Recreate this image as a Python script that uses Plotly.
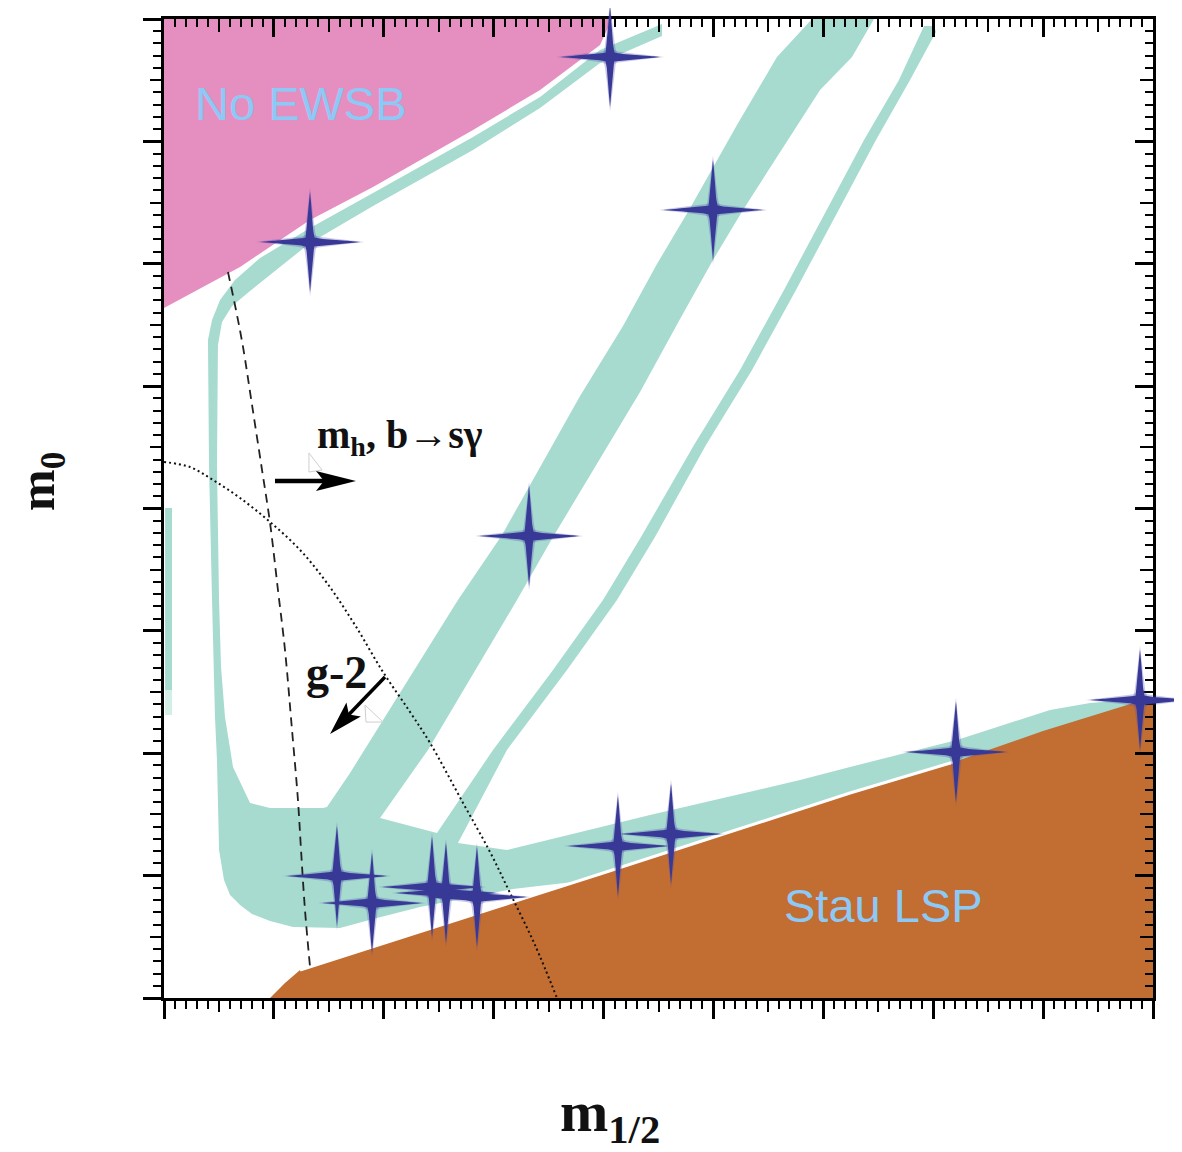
import numpy as np
import plotly.graph_objects as go

# ---------------- data: schematic (m1/2, m0) plane, arbitrary units ----------------
X_RANGE = [0, 900]
Y_RANGE = [0, 800]
X_MAJOR, X_MINOR, X_MID = 100, 10, 50
Y_MAJOR, Y_MINOR, Y_MID = 100, 10, 50

# "No EWSB" excluded region (top left)
NO_EWSB_X = [0, 407.7, 396.8, 342.2, 281.2, 190.2, 132.9, 69.2, 0]
NO_EWSB_Y = [800, 800, 778.8, 742.0, 709.3, 662.7, 635.8, 597.4, 563.9]

# "Stau LSP" excluded region (bottom right)
STAU_X = [96.5, 110.1, 123.8, 396.8, 624.3, 721.6, 799.9, 900, 900]
STAU_Y = [0, 12.3, 22.9, 101.3, 167.5, 193.7, 218.2, 246.0, 0]

# relic-density allowed strips (focus point, bulk, funnel, thin band, coannihilation)
GREEN_X = [453.2, 396.8, 342.2, 281.2, 190.2, 132.9, 87.4, 64.6, 51.0, 43.7, 40.0,
           41.0, 43.7, 46.4, 48.2, 50.1, 54.6, 60.1, 69.2, 80.1, 96.5, 117.4, 160.2, 190.2, 233.0, 281.2, 317.6,
           387.7, 472.3, 578.8, 669.8, 760.8, 851.8, 888.2,
           888.2, 842.7, 806.3, 721.6, 624.3, 578.8, 442.3, 312.1, 267.5,
           312.1, 366.7, 412.2, 446.8, 493.2, 535.1, 575.1, 611.5, 647.9, 678.9, 702.5, 700.7, 691.6,
           668.8, 637.0, 600.6, 564.2, 524.2, 482.3, 434.1, 399.5, 354.0, 299.4, 248.4,
           196.6,
           240.2, 321.2, 354.0, 385.0, 433.2, 469.6, 499.6, 526.9, 572.4, 597.0, 626.1, 646.1,
           589.7,
           557.8, 521.4, 477.8, 448.6, 417.7, 378.6, 335.8, 307.6, 267.5, 182.9, 169.3, 148.3,
           144.7, 96.5, 78.3, 62.8, 55.5, 51.9, 50.1, 48.2, 49.1,
           52.8, 61.9, 78.3, 132.9, 190.2, 281.2, 342.2, 396.8, 453.2]
GREEN_Y = [796.0, 774.7, 736.3, 703.6, 657.8, 629.2, 604.7, 586.7, 570.4, 554.1, 537.7,
           433.9, 325.2, 229.6, 194.5, 120.9, 96.4, 84.2, 76.0, 68.6, 62.9, 58.0, 57.2, 64.6, 74.4, 82.5, 89.1,
           96.4, 119.3, 149.5, 174.9, 201.0, 227.2, 237.8,
           244.3, 241.1, 235.4, 210.8, 188.8, 178.1, 149.5, 120.9, 126.7,
           202.7, 268.0, 325.2, 376.7, 451.9, 513.2, 578.6, 639.9, 701.2, 750.2, 789.4, 794.3, 794.3,
           750.2, 701.2, 639.9, 578.6, 513.2, 451.9, 376.7, 325.2, 268.0, 202.7, 134.8,
           147.1,
           202.7, 325.2, 376.7, 423.3, 495.2, 554.9, 603.1, 644.0, 706.9, 742.0, 769.0, 800,
           800,
           769.0, 713.4, 644.0, 599.8, 549.2, 492.0, 423.3, 378.4, 325.2, 202.7, 183.9, 156.1,
           155.3, 155.3, 159.4, 188.8, 229.6, 270.5, 325.2, 433.9, 533.6,
           552.4, 565.5, 577.8, 617.0, 647.2, 693.0, 727.3, 764.1, 786.1]

# narrow strip along the left border
LEFT_STRIP_X = [1.0, 7.3, 7.3, 1.0]
LEFT_STRIP_Y = [400.4, 400.4, 251.7, 251.7]
LEFT_FADE_Y = [251.7, 251.7, 231.3, 231.3]

# m_h, b->s gamma bound (dashed) and g-2 bound (dotted)
MH_X = [58.2, 65.5, 71.9, 80.1, 89.2, 96.5, 103.7, 110.1, 116.5, 121.9, 124.7, 128.3, 132.9]
MH_Y = [593.3, 562.2, 532.0, 484.6, 431.5, 388.2, 333.4, 284.4, 219.0, 161.8, 120.9, 71.9, 25.3]
G2_X = [0, 23.7, 44.6, 69.2, 96.5, 123.8, 148.3, 173.8, 199.3, 223.9, 242.1, 272.1, 296.7, 314.9, 337.6, 357.6]
G2_Y = [438.0, 433.9, 423.3, 408.6, 389.0, 366.1, 339.1, 304.8, 266.4, 233.7, 208.4, 159.4, 119.3, 85.8, 43.3, 0]

# arrows (tail, tip) and the faint outline marks beside them
MH_ARROW = [(101.0, 422.5), (174.7, 422.5)]
G2_ARROW = [(201.1, 262.3), (151.1, 215.7)]
GHOST_A_X = [131.9, 131.9, 143.8, 131.9]
GHOST_A_Y = [445.4, 429.8, 431.5, 445.4]
GHOST_B_X = [182.9, 199.3, 183.8, 182.9]
GHOST_B_Y = [239.4, 225.5, 225.5, 239.4]

# benchmark points (stars)
STAR_X = [405.9, 132.9, 499.6, 332.2, 720.7, 888.2, 413.1, 461.4, 157.4, 189.3, 243.9, 256.6, 284.8]
STAR_Y = [769.0, 617.8, 644.0, 377.5, 201.0, 243.5, 124.2, 134.0, 99.7, 77.6, 90.7, 85.8, 82.5]

# text labels
LABELS = [
    dict(text="No EWSB", x=124.7, y=730.6),
    dict(text="Stau LSP", x=654.3, y=76.0),
]
MH_LABEL = dict(text="<b>m<sub>h</sub>, b\u2192s\u03b3</b>", x=137.5, y=458.5)
G2_LABEL = dict(text="<b>g-2</b>", x=157.4, y=266.0)
X_TITLE = "<b>m<sub>1/2</sub></b>"
Y_TITLE = "<b>m<sub>0</sub></b>"

# ---------------- layout geometry (page body has an 8px margin) ----------------
BODY = 8
FIG_W, FIG_H = 1182 - BODY, 1152 - BODY
PLOT_L, PLOT_R, PLOT_T, PLOT_B = 164 - BODY, 1153 - BODY, 19 - BODY, 998 - BODY
SX = (PLOT_R - PLOT_L) / (X_RANGE[1] - X_RANGE[0])   # px per x unit
SY = (PLOT_B - PLOT_T) / (Y_RANGE[1] - Y_RANGE[0])   # px per y unit
DOM_X = [PLOT_L / FIG_W, PLOT_R / FIG_W]
DOM_Y = [1 - PLOT_B / FIG_H, 1 - PLOT_T / FIG_H]
FULL_X = [X_RANGE[0] - PLOT_L / SX, X_RANGE[1] + (FIG_W - PLOT_R) / SX]
FULL_Y = [Y_RANGE[0] - (FIG_H - PLOT_B) / SY, Y_RANGE[1] + PLOT_T / SY]

GREEN = "#A7DBD0"
PINK = "#E58FC0"
ORANGE = "#C26D31"
STAR_CORE = "#383896"
STAR_HALO = "rgba(80,80,175,0.30)"
TEXT_BLUE = "#8DC9F6"

fig = go.Figure()


def poly(x, y, color, **kw):
    fig.add_trace(go.Scatter(x=x, y=y, mode="lines", fill="toself", fillcolor=color,
                             line=dict(width=0), hoverinfo="skip", showlegend=False, **kw))


def line(x, y, color, width, dash="solid", shape="linear"):
    fig.add_trace(go.Scatter(x=x, y=y, mode="lines", line=dict(color=color, width=width, dash=dash),
                             line_shape=shape, hoverinfo="skip", showlegend=False))


poly(NO_EWSB_X, NO_EWSB_Y, PINK)
poly(GREEN_X, GREEN_Y, GREEN)
poly(LEFT_STRIP_X, LEFT_STRIP_Y, GREEN)
poly(LEFT_STRIP_X, LEFT_FADE_Y, "rgba(167,219,208,0.5)")
poly(STAU_X, STAU_Y, ORANGE)

# thin white seam between coannihilation strip and stau region
line(STAU_X[2:6], STAU_Y[2:6], "white", 3)

line(MH_X, MH_Y, "#222", 1.8, "9px,6px", "spline")
line(G2_X, G2_Y, "#111", 2, "2px,3px", "spline")
line(GHOST_A_X, GHOST_A_Y, "#cfcfcf", 1)
line(GHOST_B_X, GHOST_B_Y, "#cfcfcf", 1)


def arrow(tail, tip, head_len, head_half, shaft_w):
    (x0, y0), (x1, y1) = tail, tip
    dxp, dyp = (x1 - x0) * SX, (y1 - y0) * SY
    n = np.hypot(dxp, dyp)
    ux, uy = dxp / n, dyp / n
    nx, ny = -uy, ux

    def P(a, s):
        return x1 + (a * ux + s * nx) / SX, y1 + (a * uy + s * ny) / SY

    pts = [P(0, 0), P(-head_len, head_half), P(-0.8 * head_len, 0), P(-head_len, -head_half), P(0, 0)]
    se = P(-0.75 * head_len, 0)
    line([x0, se[0]], [y0, se[1]], "black", shaft_w)
    poly([p[0] for p in pts], [p[1] for p in pts], "black")


arrow(MH_ARROW[0], MH_ARROW[1], 40, 10, 4.5)
arrow(G2_ARROW[0], G2_ARROW[1], 34, 10, 3.5)


# stars on a full-figure overlay so they may extend beyond the frame
def star(cx, cy, L, a, b, color):
    t = np.linspace(0, L, 40)
    h = a * (1 - t / L) ** 0.8 + b * np.exp(-t / 7.0)
    tf = np.concatenate([-t[::-1], t[1:]])
    hf = np.concatenate([h[::-1], h[1:]])
    along = np.concatenate([tf, tf[::-1]])
    side = np.concatenate([hf, -hf[::-1]])
    poly(list(cx + along / SX), list(cy + side / SY), color, xaxis="x5", yaxis="y5")   # horizontal arm
    poly(list(cx + side / SX), list(cy + along / SY), color, xaxis="x5", yaxis="y5")   # vertical arm


for sx_, sy_ in zip(STAR_X, STAR_Y):
    star(sx_, sy_, 54, 5.2, 3.2, STAR_HALO)
for sx_, sy_ in zip(STAR_X, STAR_Y):
    star(sx_, sy_, 50, 3.4, 2.2, STAR_CORE)

# dummy traces to instantiate overlay axes
for xa, ya in [("x2", "y2"), ("x3", "y3"), ("x4", "y4")]:
    fig.add_trace(go.Scatter(x=[None], y=[None], xaxis=xa, yaxis=ya, showlegend=False, hoverinfo="skip"))

common = dict(showgrid=False, zeroline=False, showticklabels=False, tickcolor="black")
mids_x = [v for v in range(X_RANGE[0] + X_MID, X_RANGE[1], X_MAJOR)]
mids_y = [v for v in range(Y_RANGE[0] + Y_MID, Y_RANGE[1], Y_MAJOR)]

fig.update_layout(
    width=FIG_W, height=FIG_H, autosize=False,
    margin=dict(l=0, r=0, t=0, b=0),
    paper_bgcolor="white", plot_bgcolor="rgba(0,0,0,0)", showlegend=False,
    xaxis=dict(domain=DOM_X, range=X_RANGE, anchor="y", side="bottom", showline=True, linewidth=3,
               linecolor="black", ticks="outside", ticklen=18, tickwidth=2.5, dtick=X_MAJOR, tick0=0,
               minor=dict(ticks="outside", ticklen=8, tickwidth=2, tickcolor="black", dtick=X_MINOR, tick0=0),
               **common),
    yaxis=dict(domain=DOM_Y, range=Y_RANGE, anchor="x", side="left", showline=True, linewidth=3,
               linecolor="black", ticks="outside", ticklen=18, tickwidth=2.5, dtick=Y_MAJOR, tick0=0,
               minor=dict(ticks="outside", ticklen=8, tickwidth=2, tickcolor="black", dtick=Y_MINOR, tick0=0),
               **common),
    xaxis2=dict(overlaying="x", range=X_RANGE, anchor="y2", side="top", showline=True, linewidth=3,
                linecolor="black", ticks="inside", ticklen=18, tickwidth=2.5, dtick=X_MAJOR, tick0=0,
                minor=dict(ticks="inside", ticklen=8, tickwidth=2, tickcolor="black", dtick=X_MINOR, tick0=0),
                **common),
    yaxis2=dict(overlaying="y", range=Y_RANGE, anchor="x2", side="right", showline=True, linewidth=3,
                linecolor="black", ticks="inside", ticklen=18, tickwidth=2.5, dtick=Y_MAJOR, tick0=0,
                minor=dict(ticks="inside", ticklen=8, tickwidth=2, tickcolor="black", dtick=Y_MINOR, tick0=0),
                **common),
    xaxis3=dict(overlaying="x", range=X_RANGE, anchor="y3", side="bottom", showline=False,
                ticks="outside", ticklen=13, tickwidth=2, tickvals=mids_x, **common),
    yaxis3=dict(overlaying="y", range=Y_RANGE, anchor="x3", side="left", showline=False,
                ticks="outside", ticklen=13, tickwidth=2, tickvals=mids_y, **common),
    xaxis4=dict(overlaying="x", range=X_RANGE, anchor="y4", side="top", showline=False,
                ticks="inside", ticklen=13, tickwidth=2, tickvals=mids_x, **common),
    yaxis4=dict(overlaying="y", range=Y_RANGE, anchor="x4", side="right", showline=False,
                ticks="inside", ticklen=13, tickwidth=2, tickvals=mids_y, **common),
    xaxis5=dict(domain=[0, 1], range=FULL_X, anchor="y5", visible=False, fixedrange=True),
    yaxis5=dict(domain=[0, 1], range=FULL_Y, anchor="x5", visible=False, fixedrange=True),
)

SERIF = "Liberation Serif, Times New Roman, serif"
ann = []
for lab in LABELS:
    ann.append(dict(text=lab["text"], x=lab["x"], y=lab["y"], xref="x", yref="y", showarrow=False,
                    xanchor="center", yanchor="middle",
                    font=dict(family="Liberation Sans, Arial", size=47, color=TEXT_BLUE)))
ann.append(dict(text=MH_LABEL["text"], x=MH_LABEL["x"], y=MH_LABEL["y"], xref="x", yref="y", showarrow=False,
                xanchor="left", yanchor="middle", font=dict(family=SERIF, size=40, color="#111")))
ann.append(dict(text=G2_LABEL["text"], x=G2_LABEL["x"], y=G2_LABEL["y"], xref="x", yref="y", showarrow=False,
                xanchor="center", yanchor="middle", font=dict(family=SERIF, size=46, color="#111")))
ann.append(dict(text=X_TITLE, x=(610 - BODY) / FIG_W, y=1 - (1115 - BODY) / FIG_H, xref="paper", yref="paper",
                showarrow=False, xanchor="center", yanchor="middle",
                font=dict(family=SERIF, size=58, color="#111")))
ann.append(dict(text=Y_TITLE, x=(41 - BODY) / FIG_W, y=1 - (482 - BODY) / FIG_H, xref="paper", yref="paper",
                showarrow=False, xanchor="center", yanchor="middle", textangle=-90,
                font=dict(family=SERIF, size=50, color="#111")))
fig.update_layout(annotations=ann)

fig.write_html("out.html")
